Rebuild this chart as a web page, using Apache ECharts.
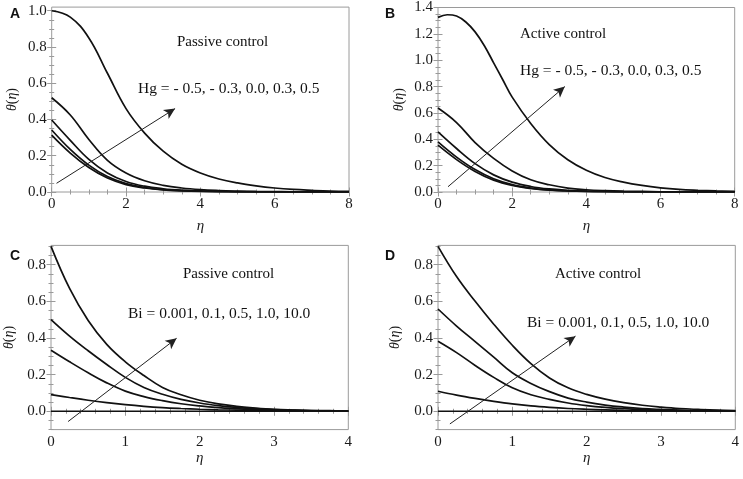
<!DOCTYPE html>
<html>
<head>
<meta charset="utf-8">
<style>
html, body { margin: 0; padding: 0; background: #fff; }
#main { width: 743px; height: 479px; }
</style>
<script src="https://cdn.jsdelivr.net/npm/echarts@6/dist/echarts.min.js"></script>
</head>
<body>
<div id="main"></div>
<script>
// eta samples
var etaAB = [0, 0.5, 1, 1.5, 2, 2.5, 3, 3.5, 4, 4.5, 5, 5.5, 6, 6.5, 7, 7.5, 8];
var etaB1 = [0, 0.25, 0.5, 0.75, 1, 1.25, 1.5, 1.75, 2, 2.5, 3, 3.5, 4, 4.5, 5, 5.5, 6, 6.5, 7, 7.5, 8];
var etaCD = [0, 0.25, 0.5, 0.75, 1, 1.25, 1.5, 1.75, 2, 2.25, 2.5, 2.75, 3, 3.25, 3.5, 3.75, 4];

// A: passive control, Hg = -0.5, -0.3, 0.0, 0.3, 0.5
var thetaA1 = [1.0, 0.965, 0.85, 0.655, 0.46, 0.325, 0.225, 0.153, 0.105, 0.072, 0.05, 0.034, 0.022, 0.014, 0.009, 0.005, 0.003];
var thetaA2 = [0.52, 0.425, 0.29, 0.175, 0.105, 0.062, 0.037, 0.022, 0.013, 0.008, 0.005, 0.003, 0.002, 0.001, 0.001, 0, 0];
var thetaA3 = [0.397, 0.285, 0.18, 0.105, 0.058, 0.032, 0.018, 0.01, 0.006, 0.003, 0.002, 0.001, 0.001, 0, 0, 0, 0];
var thetaA4 = [0.342, 0.235, 0.148, 0.085, 0.046, 0.025, 0.013, 0.007, 0.004, 0.002, 0.001, 0, 0, 0, 0, 0, 0];
var thetaA5 = [0.314, 0.215, 0.135, 0.077, 0.041, 0.022, 0.011, 0.006, 0.003, 0.002, 0.001, 0, 0, 0, 0, 0, 0];

// B: active control (B1 sampled finer near its peak)
var thetaB1 = [1.325, 1.345, 1.335, 1.29, 1.215, 1.11, 0.98, 0.85, 0.72, 0.52, 0.36, 0.245, 0.165, 0.11, 0.075, 0.05, 0.032, 0.02, 0.013, 0.008, 0.005];
var thetaB2 = [0.637, 0.527, 0.375, 0.255, 0.16, 0.093, 0.055, 0.03, 0.017, 0.01, 0.006, 0.004, 0.002, 0.001, 0.001, 0, 0];
var thetaB3 = [0.456, 0.33, 0.215, 0.13, 0.075, 0.042, 0.023, 0.013, 0.007, 0.004, 0.002, 0.001, 0.001, 0, 0, 0, 0];
var thetaB4 = [0.38, 0.265, 0.17, 0.1, 0.056, 0.03, 0.016, 0.009, 0.005, 0.003, 0.001, 0, 0, 0, 0, 0, 0];
var thetaB5 = [0.355, 0.246, 0.156, 0.09, 0.05, 0.027, 0.014, 0.008, 0.004, 0.002, 0.001, 0, 0, 0, 0, 0, 0];

// C: passive control, Bi = 0.001, 0.1, 0.5, 1.0, 10.0
var thetaC1 = [0.9, 0.67, 0.495, 0.365, 0.27, 0.195, 0.13, 0.09, 0.06, 0.04, 0.027, 0.018, 0.011, 0.007, 0.004, 0.003, 0.002];
var thetaC2 = [0.5, 0.41, 0.33, 0.255, 0.185, 0.13, 0.093, 0.065, 0.045, 0.031, 0.021, 0.014, 0.009, 0.006, 0.004, 0.002, 0.001];
var thetaC3 = [0.333, 0.27, 0.21, 0.155, 0.11, 0.08, 0.058, 0.041, 0.029, 0.02, 0.014, 0.009, 0.006, 0.004, 0.002, 0.001, 0.001];
var thetaC4 = [0.091, 0.075, 0.06, 0.047, 0.036, 0.027, 0.02, 0.015, 0.011, 0.008, 0.006, 0.004, 0.003, 0.002, 0.001, 0.001, 0];
var thetaC5 = [0, 0, 0, 0, 0, 0, 0, 0, 0, 0, 0, 0, 0, 0, 0, 0, 0];

// D: active control
var thetaD1 = [0.9, 0.735, 0.6, 0.475, 0.36, 0.26, 0.182, 0.128, 0.092, 0.066, 0.047, 0.033, 0.023, 0.015, 0.01, 0.006, 0.004];
var thetaD2 = [0.558, 0.465, 0.38, 0.295, 0.21, 0.152, 0.107, 0.072, 0.05, 0.034, 0.023, 0.015, 0.01, 0.006, 0.004, 0.003, 0.002];
var thetaD3 = [0.382, 0.32, 0.25, 0.185, 0.128, 0.09, 0.065, 0.045, 0.031, 0.021, 0.014, 0.009, 0.006, 0.004, 0.002, 0.001, 0.001];
var thetaD4 = [0.109, 0.088, 0.07, 0.054, 0.04, 0.029, 0.021, 0.015, 0.011, 0.008, 0.005, 0.003, 0.002, 0.001, 0.001, 0, 0];
var thetaD5 = [0, 0, 0, 0, 0, 0, 0, 0, 0, 0, 0, 0, 0, 0, 0, 0, 0];

// tick labels
var xTicksAB = [0, 2, 4, 6, 8];
var xTicksCD = [0, 1, 2, 3, 4];
var yTicksA = [0, 0.2, 0.4, 0.6, 0.8, 1.0];
var yTicksB = [0, 0.2, 0.4, 0.6, 0.8, 1.0, 1.2, 1.4];
var yTicksCD = [0, 0.2, 0.4, 0.6, 0.8];

// arrows (data coords: tail, head)
var arrowA = [[0.13, 0.048], [3.32, 0.46]];
var arrowB = [[0.27, 0.04], [3.42, 0.8]];
var arrowC = [[0.23, -0.056], [1.69, 0.398]];
var arrowD = [[0.16, -0.069], [1.85, 0.41]];

var paramHg = 'Hg = - 0.5, - 0.3, 0.0, 0.3, 0.5';
var paramBi = 'Bi = 0.001, 0.1, 0.5, 1.0, 10.0';

var SERIF = "'Liberation Serif', 'Times New Roman', serif";
var FRAME = '#9a9a9a';

var panels = [
    { letter: 'A', grid: { left: 51.7, top: 7.1, width: 297.3, height: 184.9 },
      xMin: 0, xMax: 8, xTicks: xTicksAB, xMinor: 0.5, yMin: 0, yMax: 1.02, yTicks: yTicksA, yMinor: 0.05,
      etas: [etaAB, etaAB, etaAB, etaAB, etaAB], curves: [thetaA1, thetaA2, thetaA3, thetaA4, thetaA5], arrow: arrowA,
      note: 'Passive control', param: paramHg, xGap: 27, yGap: 32,
      letterPos: [10, 7], notePos: [177, 35], paramPos: [138, 81] },
    { letter: 'B', grid: { left: 438, top: 6.7, width: 296.7, height: 185.3 },
      xMin: 0, xMax: 8, xTicks: xTicksAB, xMinor: 0.5, yMin: 0, yMax: 1.4, yTicks: yTicksB, yMinor: 0.05,
      etas: [etaB1, etaAB, etaAB, etaAB, etaAB], curves: [thetaB1, thetaB2, thetaB3, thetaB4, thetaB5], arrow: arrowB,
      note: 'Active control', param: paramHg, xGap: 27, yGap: 32,
      letterPos: [385, 7], notePos: [520, 27], paramPos: [520, 63] },
    { letter: 'C', grid: { left: 51, top: 245.4, width: 297.3, height: 184.2 },
      xMin: 0, xMax: 4, xTicks: xTicksCD, xMinor: 0.2, yMin: -0.1, yMax: 0.905, yTicks: yTicksCD, yMinor: 0.05,
      etas: [etaCD, etaCD, etaCD, etaCD, etaCD], curves: [thetaC1, thetaC2, thetaC3, thetaC4, thetaC5], arrow: arrowC,
      note: 'Passive control', param: paramBi, xGap: 21, yGap: 35,
      letterPos: [10, 249], notePos: [183, 267], paramPos: [128, 306] },
    { letter: 'D', grid: { left: 438, top: 245.4, width: 297.3, height: 184.2 },
      xMin: 0, xMax: 4, xTicks: xTicksCD, xMinor: 0.2, yMin: -0.1, yMax: 0.905, yTicks: yTicksCD, yMinor: 0.05,
      etas: [etaCD, etaCD, etaCD, etaCD, etaCD], curves: [thetaD1, thetaD2, thetaD3, thetaD4, thetaD5], arrow: arrowD,
      note: 'Active control', param: paramBi, xGap: 21, yGap: 36,
      letterPos: [385, 249], notePos: [555, 267], paramPos: [527, 315] }
];

// minor tick positions between the majors
function minorList(min, max, step, majors) {
    var out = [];
    var k = Math.ceil(min / step - 1e-9);
    for (; k * step <= max + 1e-9; k++) {
        var v = Math.round(k * step * 1000) / 1000;
        if (majors.indexOf(v) < 0) out.push(v);
    }
    return out;
}

function makeAxis(gi, pos, min, max, ticks, len, label) {
    var ax = {
        type: 'value', gridIndex: gi, position: pos, min: min, max: max,
        axisLine: { show: false },
        splitLine: { show: false },
        axisTick: { show: true, inside: true, length: len, customValues: ticks, lineStyle: { color: FRAME, width: 1 } },
        axisLabel: { show: false }
    };
    if (label) {
        ax.axisLabel = {
            show: true, customValues: ticks, margin: 5, color: '#1a1a1a',
            fontFamily: SERIF, fontSize: 15,
            formatter: label
        };
    }
    return ax;
}

var grids = [], xAxes = [], yAxes = [], series = [], titles = [];

panels.forEach(function (p, i) {
    grids.push({ left: p.grid.left, top: p.grid.top, width: p.grid.width, height: p.grid.height,
        show: true, borderColor: FRAME, borderWidth: 1, backgroundColor: 'transparent', containLabel: false });

    var xMinorT = minorList(p.xMin, p.xMax, p.xMinor, p.xTicks);
    var yMinorT = minorList(p.yMin, p.yMax, p.yMinor, p.yTicks);

    var xb = makeAxis(i, 'bottom', p.xMin, p.xMax, p.xTicks, 4.5, function (v) { return String(v); });
    xb.name = 'η';
    xb.nameLocation = 'middle';
    xb.nameGap = p.xGap;
    xb.nameTextStyle = { fontFamily: SERIF, fontSize: 15, fontStyle: 'italic', color: '#1a1a1a' };
    xAxes.push(xb);
    xAxes.push(makeAxis(i, 'bottom', p.xMin, p.xMax, xMinorT, 2.5));
    xAxes.push(makeAxis(i, 'top', p.xMin, p.xMax, p.xTicks, 4.5));
    xAxes.push(makeAxis(i, 'top', p.xMin, p.xMax, xMinorT, 2.5));

    var yl = makeAxis(i, 'left', p.yMin, p.yMax, p.yTicks, 4.5, function (v) { return v.toFixed(1); });
    yl.name = '{i|θ}(' + '{i|η})';
    yl.nameLocation = 'middle';
    yl.nameGap = p.yGap;
    yl.nameRotate = 90;
    yl.nameTextStyle = { fontFamily: SERIF, fontSize: 14, color: '#1a1a1a',
        rich: { i: { fontFamily: SERIF, fontSize: 14, fontStyle: 'italic', color: '#1a1a1a' } } };
    yAxes.push(yl);
    yAxes.push(makeAxis(i, 'left', p.yMin, p.yMax, yMinorT, 2.5));
    yAxes.push(makeAxis(i, 'right', p.yMin, p.yMax, p.yTicks, 4.5));
    yAxes.push(makeAxis(i, 'right', p.yMin, p.yMax, yMinorT, 2.5));

    p.curves.forEach(function (c, k) {
        var eta = p.etas[k];
        var s = {
            type: 'line', xAxisIndex: i * 4, yAxisIndex: i * 4,
            data: eta.map(function (x, j) { return [x, c[j]]; }),
            smooth: 0.4, showSymbol: false, silent: true,
            lineStyle: { color: '#111', width: 1.7 }
        };
        if (k === 0) {
            s.markLine = {
                silent: true, animation: false,
                symbol: ['none', 'arrow'], symbolSize: [8, 11],
                label: { show: false },
                lineStyle: { color: '#222', width: 1, type: 'solid' },
                emphasis: { disabled: true },
                data: [[{ coord: p.arrow[0] }, { coord: p.arrow[1] }]]
            };
        }
        series.push(s);
    });

    titles.push({ text: p.letter, left: p.letterPos[0], top: p.letterPos[1], padding: 0,
        textStyle: { fontFamily: "'Liberation Sans', Arial, sans-serif", fontWeight: 'bold', fontSize: 14, color: '#111' } });
    titles.push({ text: p.note, left: p.notePos[0], top: p.notePos[1], padding: 0,
        textStyle: { fontFamily: SERIF, fontWeight: 'normal', fontSize: 15, color: '#111' } });
    titles.push({ text: p.param, left: p.paramPos[0], top: p.paramPos[1], padding: 0,
        textStyle: { fontFamily: SERIF, fontWeight: 'normal', fontSize: 15.5, color: '#111' } });
});

var chart = echarts.init(document.getElementById('main'));
chart.setOption({
    animation: false,
    backgroundColor: '#fff',
    title: titles,
    grid: grids,
    xAxis: xAxes,
    yAxis: yAxes,
    series: series
});
</script>
</body>
</html>
